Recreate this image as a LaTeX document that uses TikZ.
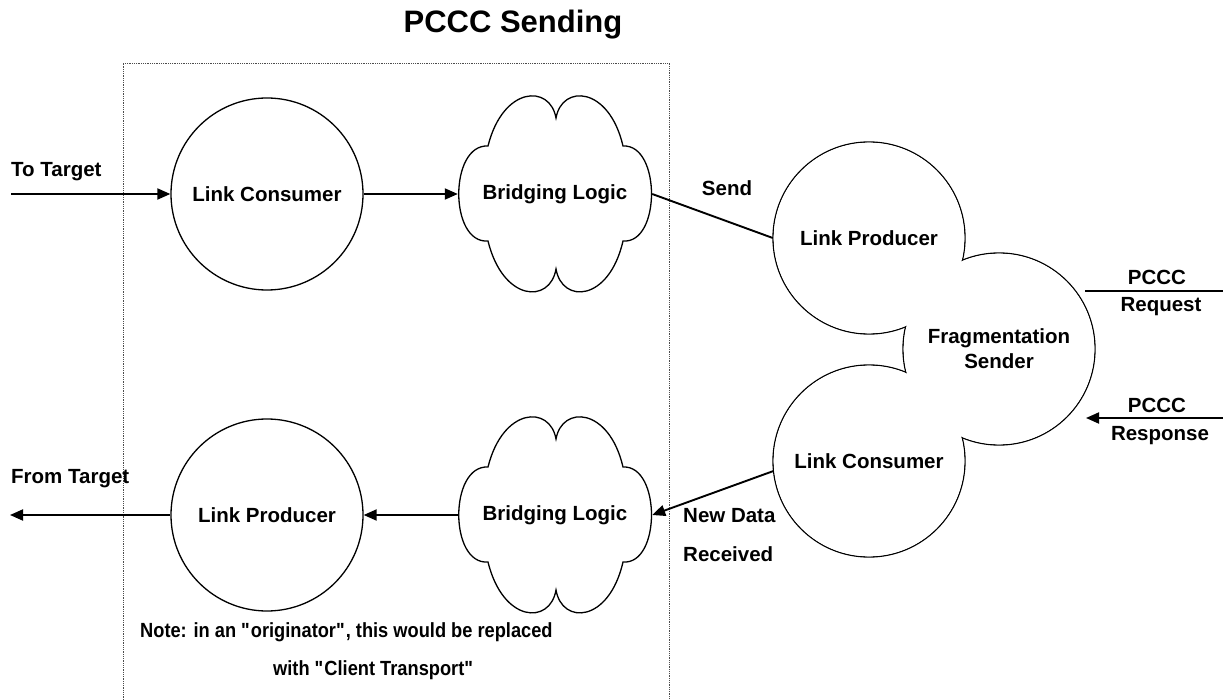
\documentclass[tikz,border=0pt]{standalone}
\usepackage{fontspec}
\setmainfont{Liberation Sans}
\newfontfamily\notefont[FakeStretch=0.89]{Liberation Sans}
\usetikzlibrary{arrows.meta,backgrounds}

\tikzset{
  lbl/.style={font=\fontsize{20.5}{25}\selectfont\bfseries, inner sep=0pt},
  notelbl/.style={font=\notefont\fontsize{20.5}{25}\selectfont\bfseries, inner sep=0pt},
  bubble/.style={circle, minimum size=192pt, inner sep=0pt, lbl},
  cloudspot/.style={circle, minimum size=194pt, inner sep=0pt, lbl},
  outline/.style={line width=1.3pt},
  flow/.style={line width=1.9pt, -{Triangle[length=13pt,width=11pt]}},
  plain/.style={line width=1.9pt},
  frame/.style={line width=0.8pt, gray!60!black, dash pattern=on 0.9pt off 0.9pt},
}

% cloud outline drawn round a named node
\newcommand\cloudoutline[1]{%
  \draw[outline,shift={(#1.center)}]
    (-67,-48) .. controls (-52,-108) and (-5,-110) .. (1,-76)
    .. controls (7,-110) and (54,-108) .. (68,-48)
    .. controls (106,-50) and (106,50) .. (68,47)
    .. controls (54,108) and (7,110) .. (1,75)
    .. controls (-5,110) and (-52,108) .. (-67,47)
    .. controls (-106,50) and (-106,-50) .. (-67,-48) -- cycle;}

\begin{document}
\begin{tikzpicture}[x=1pt,y=-1pt]
\useasboundingbox (0,0) rectangle (1223,700);

% title
\node[font=\fontsize{31}{36}\selectfont\bfseries, inner sep=0pt, anchor=base] (title) at (513,33) {PCCC Sending};

% dotted frame round the bridging part
\draw[frame] (123,700) -- (123,63) -- (669,63) -- (669,700);

% left column
\node[bubble, draw, outline] (lc1) at (267,194) {Link Consumer};
\node[bubble, draw, outline] (lp1) at (267,515) {Link Producer};
\node[cloudspot] (bl1) at (555,194) {Bridging Logic};
\node[cloudspot] (bl2) at (555,515) {Bridging Logic};
\cloudoutline{bl1}
\cloudoutline{bl2}

% fragmentation block: three joined bubbles
\node[bubble] (lp2) at (869,238) {Link Producer};
\node[bubble, align=center] (fs) at (999,349) {Fragmentation\\Sender};
\node[bubble] (lc2) at (869,461) {Link Consumer};
\begin{pgfonlayer}{background}
  \foreach \n in {lp2,fs,lc2} \draw[outline] (\n.center) circle[radius=96pt];
  \foreach \n in {lp2,fs,lc2} \fill[white] (\n.center) circle[radius=95.3pt];
\end{pgfonlayer}

% free ends
\coordinate (tt) at (11,194);
\coordinate (ft) at (10,515);
\coordinate (rqL) at (1085,291);
\coordinate (rqR) at (1223,291);
\coordinate (rsR) at (1223,418);
\coordinate (rsL) at (1086,418);

% connectors
\draw[flow] (tt) -- (lc1.west);
\draw[flow] (lc1.east) -- (bl1.west);
\draw[plain] (bl1.east) -- (lp2.west);
\draw[flow] (lc2.186) -- (bl2.east);
\draw[flow] (bl2.west) -- (lp1.east);
\draw[flow] (lp1.west) -- (ft);
\draw[plain] (rqL) -- (rqR);
\draw[flow] (rsR) -- (rsL);

% labels
\node[lbl, anchor=base west] (totarget) at (11,177) {To Target};
\node[lbl, anchor=base west] (fromtarget) at (11,483) {From Target};
\node[lbl, anchor=base] (send) at (727,196) {Send};
\node[lbl, anchor=base west] (newdata) at (683,522) {New Data};
\node[lbl, anchor=base west] (received) at (683,561) {Received};
\node[lbl, anchor=base] (pccc1) at (1157,285) {PCCC};
\node[lbl, anchor=base] (request) at (1161,312) {Request};
\node[lbl, anchor=base] (pccc2) at (1157,412) {PCCC};
\node[lbl, anchor=base] (response) at (1160,440) {Response};
\node[notelbl, anchor=base west] (note1) at (140,637) {Note: in an \textquotedbl originator\textquotedbl, this would be replaced};
\node[notelbl, anchor=base west] (note2) at (273,675) {with \textquotedbl Client Transport\textquotedbl};
\end{tikzpicture}
\end{document}
